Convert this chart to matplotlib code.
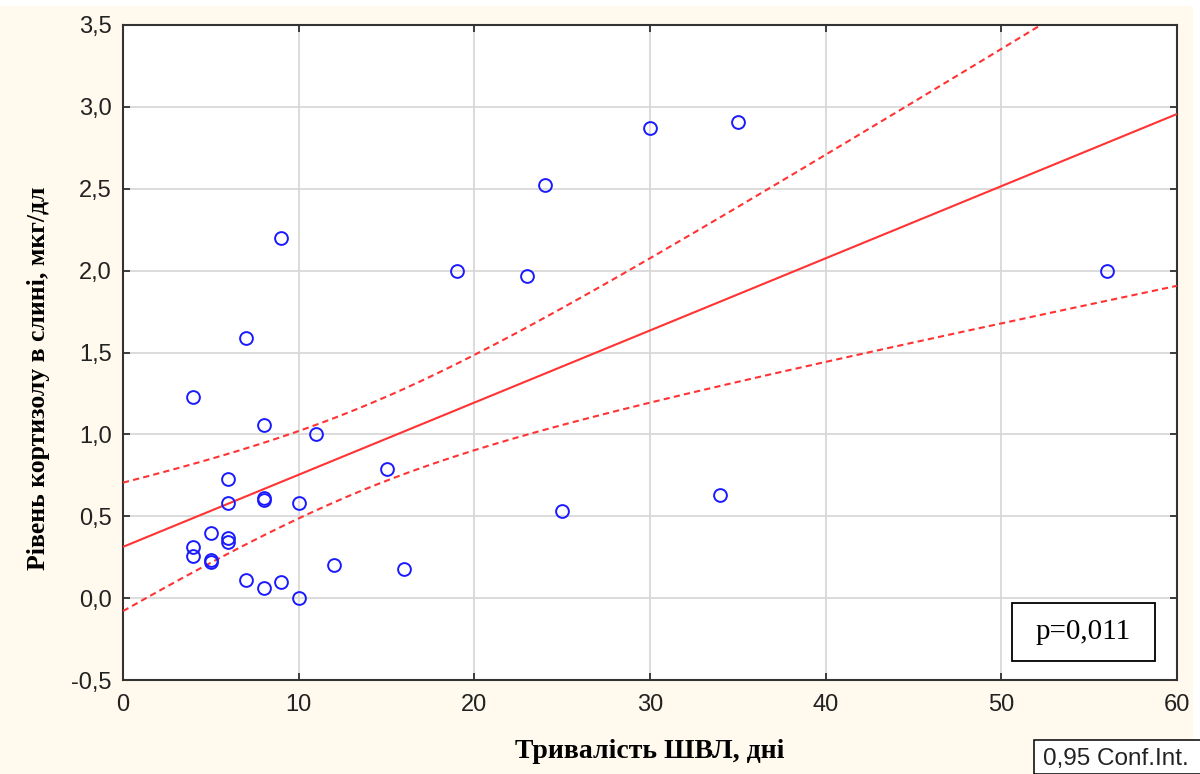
import numpy as np
import matplotlib
matplotlib.use('Agg')
import matplotlib.pyplot as plt
from matplotlib.ticker import FuncFormatter
from matplotlib.patches import Rectangle

# тривалість ШВЛ (дні) та рівень кортизолу (мкг/дл)
days = [4, 7, 9, 8, 11, 6, 6, 8, 8, 10, 5, 6, 6, 4, 4, 5, 5, 7, 8, 9, 10,
        12, 16, 15, 19, 23, 24, 25, 30, 35, 34, 56]
cortisol = [1.23, 1.59, 2.20, 1.06, 1.00, 0.73, 0.58, 0.60, 0.61, 0.58, 0.40,
            0.37, 0.34, 0.31, 0.26, 0.23, 0.22, 0.11, 0.06, 0.10, 0.00,
            0.20, 0.18, 0.79, 2.00, 1.97, 2.52, 0.53, 2.87, 2.91, 0.63, 2.00]
p_text = 'p=0,011'
x_ticks = [0, 10, 20, 30, 40, 50, 60]
y_ticks = [-0.5, 0.0, 0.5, 1.0, 1.5, 2.0, 2.5, 3.0, 3.5]

x = np.array(days, dtype=float)
y = np.array(cortisol)
n = len(x)

# лінійна регресія та 95% довірчий інтервал
b, a = np.polyfit(x, y, 1)
resid = y - (a + b * x)
s = np.sqrt(np.sum(resid ** 2) / (n - 2))
sxx = np.sum((x - x.mean()) ** 2)
t = 2.042  # t(0.975, 30)
xs = np.linspace(0, 60, 200)
ys = a + b * xs
half = t * s * np.sqrt(1 / n + (xs - x.mean()) ** 2 / sxx)

W, H = 1200, 774
fig = plt.figure(figsize=(W / 100, H / 100), dpi=100, facecolor='white')
fig.patches.append(Rectangle((0, 0), 1193 / W, 1 - 6 / H, transform=fig.transFigure,
                             facecolor='#fff9ee', edgecolor='none', zorder=-10))
ax = fig.add_axes([123 / W, 1 - 680 / H, (1177 - 123) / W, (680 - 25) / H])
ax.set_facecolor('white')

red = '#ff3333'
ax.plot(xs, ys, color=red, lw=1.5, zorder=3)
ax.plot(xs, ys + half, color=red, lw=1.5, ls=(0, (3, 2)), zorder=3)
ax.plot(xs, ys - half, color=red, lw=1.5, ls=(0, (3, 2)), zorder=3)
ax.plot(x, y, 'o', ms=9.2, mfc='none', mec='#1a1aff', mew=1.4, zorder=4)

ax.set_xlim(0, 60)
ax.set_ylim(-0.5, 3.5)
ax.set_xticks(x_ticks)
ax.set_yticks(y_ticks)
ax.xaxis.set_major_formatter(FuncFormatter(lambda v, p: f'{v:.0f}'))
ax.yaxis.set_major_formatter(FuncFormatter(lambda v, p: f'{v:.1f}'.replace('.', ',')))
ax.tick_params(direction='in', length=5, width=1.2, top=True, right=True,
               labelsize=17, pad=8, colors='#222222')
ax.tick_params(axis='x', pad=10)
for lab in ax.get_xticklabels() + ax.get_yticklabels():
    lab.set_fontfamily('Liberation Sans')
ax.grid(True, color='#d6d6d6', lw=1.2)
ax.set_axisbelow(True)
for sp in ax.spines.values():
    sp.set_linewidth(1.5)
    sp.set_color('#333333')

ax.set_xlabel('Тривалість ШВЛ, дні', fontfamily='Liberation Serif', fontweight='bold',
              fontsize=20, labelpad=17)
ax.set_ylabel('Рівень кортизолу в слині, мкг/дл', fontfamily='Liberation Serif',
              fontweight='bold', fontsize=18.5)
ax.yaxis.set_label_coords(-0.069, 0.46)

# рамка з p-значенням
ax.add_patch(Rectangle((0.8435, 0.029), 0.1356, 0.0886, transform=ax.transAxes,
                       facecolor='white', edgecolor='black', lw=1.3, zorder=5))
ax.text(0.9113, 0.0733, p_text, transform=ax.transAxes, ha='center', va='center',
        fontfamily='Liberation Serif', fontsize=21, zorder=6)

# підпис довірчого інтервалу
fig.patches.append(Rectangle((1034 / W, 0), 0.2, (774 - 740) / H, transform=fig.transFigure,
                             facecolor='white', edgecolor='black', lw=1.1))
fig.text(1043 / W, 1 - 759 / H, '0,95 Conf.Int.', ha='left', va='center',
         fontfamily='Liberation Sans', fontsize=17.5, color='#222222')

fig.savefig('out.png', dpi=100, facecolor=fig.get_facecolor())
